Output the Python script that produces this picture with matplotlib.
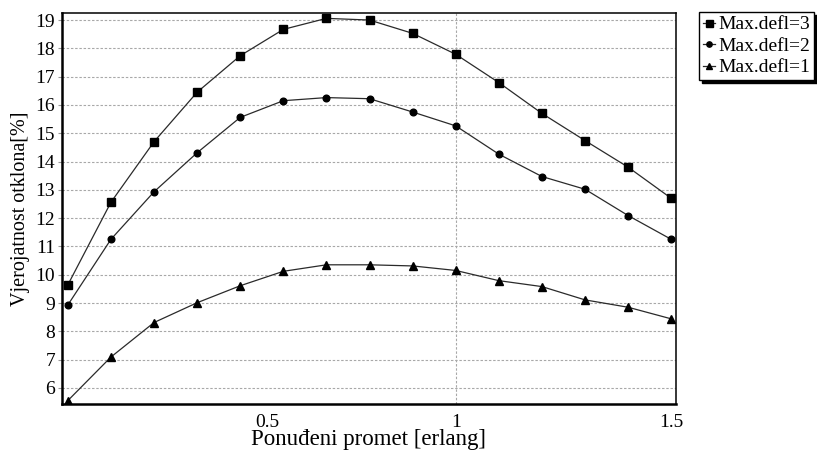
import matplotlib
matplotlib.use("Agg")
import matplotlib.pyplot as plt
from matplotlib.transforms import ScaledTranslation

# Offered traffic [erlang]
offered_traffic = [0.1, 0.2, 0.3, 0.4, 0.5, 0.6, 0.7, 0.8, 0.9, 1.0, 1.1, 1.2, 1.3, 1.4, 1.5]

# Deflection probability [%] for each maximum number of deflections
defl_max3 = [9.64, 12.56, 14.70, 16.45, 17.74, 18.67, 19.06, 19.00, 18.53, 17.79,
             16.79, 15.70, 14.74, 13.80, 12.70]
defl_max2 = [8.93, 11.25, 12.93, 14.31, 15.56, 16.15, 16.26, 16.22, 15.75, 15.26,
             14.26, 13.47, 13.02, 12.09, 11.25]
defl_max1 = [5.55, 7.09, 8.31, 9.01, 9.61, 10.12, 10.35, 10.35, 10.31, 10.15,
             9.79, 9.58, 9.11, 8.85, 8.44]

series_labels = ["Max.defl=3", "Max.defl=2", "Max.defl=1"]
y_ticks = list(range(6, 20))
x_ticks = [0.5, 1.0, 1.5]
x_tick_labels = ["0.5", "1", "1.5"]

plt.rcParams["font.family"] = ["Liberation Serif", "DejaVu Serif"]

fig = plt.figure(figsize=(8.17, 4.54), dpi=100)
ax = fig.add_axes([0.0759, 0.1101, 0.8274 - 0.0759, 0.9714 - 0.1101])

line_kw = dict(color="#2a2a2a", linewidth=0.9, markeredgecolor="black",
               markerfacecolor="black", zorder=3)
ax.plot(offered_traffic, defl_max3, marker="s", markersize=6.3,
        label=series_labels[0], **line_kw)
ax.plot(offered_traffic, defl_max2, marker="o", markersize=4.8,
        label=series_labels[1], **line_kw)
ax.plot(offered_traffic, defl_max1, marker="^", markersize=6.0,
        label=series_labels[2], **line_kw)

ax.set_xlim(0.0865, 1.511)
ax.set_ylim(5.43, 19.25)

ax.set_yticks(y_ticks)
ax.set_yticklabels([str(v) for v in y_ticks], fontsize=14)
ax.set_xticks(x_ticks)
ax.set_xticklabels(x_tick_labels, fontsize=14)

ax.tick_params(axis="y", direction="out", length=3, width=0.8,
               color="#999999", pad=2)
ax.tick_params(axis="x", length=0, pad=7)

grid_kw = dict(color="#a8a8a8", linewidth=0.8, linestyle=(0, (2.2, 1.6)), zorder=1)
ax.yaxis.grid(True, **grid_kw)
ax.axvline(1.0, **grid_kw)

for side in ("left", "bottom"):
    ax.spines[side].set_linewidth(1.8)
for side in ("top", "right"):
    ax.spines[side].set_linewidth(1.1)
for sp in ax.spines.values():
    sp.set_color("black")

ax.set_ylabel("Vjerojatnost otklona[%]", fontsize=14.5, labelpad=4)
ax.set_xlabel("Ponuđeni promet [erlang]", fontsize=16.5, labelpad=-1)

# the 0.5 label sits a little to the right of its tick
first = ax.xaxis.get_major_ticks()[0].label1
first.set_transform(first.get_transform() +
                    ScaledTranslation(27 / 100, 0, fig.dpi_scale_trans))

leg = ax.legend(loc="upper left", bbox_to_anchor=(0.8556, 0.9736),
                bbox_transform=fig.transFigure, borderaxespad=0,
                fontsize=14, frameon=True, fancybox=False,
                shadow={"color": "black", "alpha": 1.0},
                edgecolor="black", framealpha=1.0,
                handlelength=0.6, handletextpad=0.2, labelspacing=0.2,
                borderpad=0.2, markerscale=0.8)
leg.get_frame().set_linewidth(1.0)

fig.savefig("out.png", dpi=100)
